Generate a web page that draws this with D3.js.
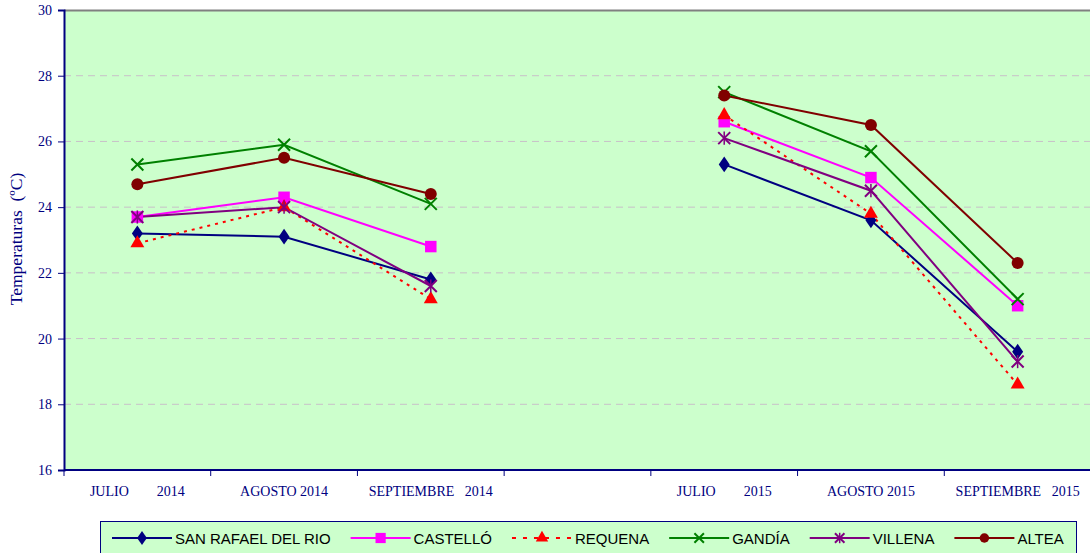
<!DOCTYPE html>
<html lang="es">
<head>
<meta charset="UTF-8">
<title>Temperaturas</title>
<script src="https://d3js.org/d3.v7.min.js"></script>
<style>
  body { margin: 0; background: #fff; }
  .tick-x text { white-space: pre; }
</style>
</head>
<body>
<div id="chart"></div>
<script>
// categories (4th slot is the empty gap between years)
var categories = ["JULIO        2014", "AGOSTO 2014", "SEPTIEMBRE   2014", "",
                  "JULIO        2015", "AGOSTO 2015", "SEPTIEMBRE   2015"];

var sanRafael = [23.2, 23.1, 21.8, null, 25.3, 23.6, 19.6];
var castello  = [23.7, 24.3, 22.8, null, 26.6, 24.9, 21.0];
var requena   = [22.9, 24.0, 21.2, null, 26.8, 23.8, 18.6];
var gandia    = [25.3, 25.9, 24.1, null, 27.5, 25.7, 21.2];
var villena   = [23.7, 24.0, 21.6, null, 26.1, 24.5, 19.3];
var altea     = [24.7, 25.5, 24.4, null, 27.4, 26.5, 22.3];

var yTicks = [16, 18, 20, 22, 24, 26, 28, 30];

var series = [
  {name: "SAN RAFAEL DEL RIO", values: sanRafael, color: "#000080", marker: "diamond"},
  {name: "CASTELLÓ", values: castello, color: "#ff00ff", marker: "square"},
  {name: "REQUENA", values: requena, color: "#ff0000", marker: "triangle", dash: "3,5"},
  {name: "GANDÍA", values: gandia, color: "#008000", marker: "x"},
  {name: "VILLENA", values: villena, color: "#800080", marker: "star"},
  {name: "ALTEA", values: altea, color: "#800000", marker: "circle"}
];

var W = 1090, H = 553;
var margin = {top: 10, left: 64, bottom: 83};
var plotW = 1027, plotH = 460;

var svg = d3.select("#chart").append("svg")
    .attr("width", W).attr("height", H);

var x = d3.scaleBand().domain(d3.range(categories.length)).range([0, plotW]);
var y = d3.scaleLinear().domain([16, 30]).range([plotH, 0]);

var g = svg.append("g").attr("transform", "translate(" + margin.left + "," + margin.top + ")");

// plot background
g.append("rect").attr("width", plotW).attr("height", plotH).attr("fill", "#ccffcc");

// gridlines
g.selectAll(".grid").data(yTicks.filter(function(d) { return d > 16 && d < 30; }))
  .enter().append("line")
    .attr("x1", 0).attr("x2", plotW)
    .attr("y1", function(d) { return y(d); }).attr("y2", function(d) { return y(d); })
    .attr("stroke", "#c8c0c8").attr("stroke-dasharray", "7,5");

// top border
g.append("line").attr("x1", 0).attr("x2", plotW).attr("y1", 0.5).attr("y2", 0.5)
  .attr("stroke", "#808080").attr("stroke-width", 2);

// y axis
var yAxis = g.append("g")
  .call(d3.axisLeft(y).tickValues(yTicks).tickSize(6).tickPadding(6));
yAxis.select(".domain").attr("stroke", "#000080").attr("stroke-width", 2);
yAxis.selectAll(".tick line").attr("stroke", "#000080");
yAxis.selectAll(".tick text").attr("fill", "#000080")
  .style("font-family", "'Liberation Serif', 'Times New Roman', serif").style("font-size", "14px");

// x axis: ticks at band edges
var xAxis = g.append("g").attr("transform", "translate(0," + plotH + ")");
xAxis.append("line").attr("x1", 0).attr("x2", plotW).attr("stroke", "#000080").attr("stroke-width", 2);
xAxis.selectAll(".edge").data(d3.range(categories.length + 1)).enter().append("line")
  .attr("x1", function(i) { return i * x.step(); }).attr("x2", function(i) { return i * x.step(); })
  .attr("y1", 0).attr("y2", 6).attr("stroke", "#000080");
xAxis.selectAll(".lbl").data(categories).enter().append("text")
  .attr("class", "tick-x")
  .attr("x", function(d, i) { return x(i) + x.bandwidth() / 2; })
  .attr("y", 26)
  .attr("text-anchor", "middle")
  .attr("fill", "#000080")
  .style("white-space", "pre")
  .style("font-family", "'Liberation Serif', 'Times New Roman', serif").style("font-size", "14px")
  .text(function(d) { return d; });

// y title
svg.append("text")
  .attr("transform", "translate(22," + (margin.top + 229) + ") rotate(-90)")
  .attr("text-anchor", "middle")
  .attr("fill", "#000080")
  .style("white-space", "pre")
  .style("font-family", "'Liberation Serif', 'Times New Roman', serif").style("font-size", "17.5px")
  .text("Temperaturas  (ºC)");

// marker drawing
function drawMarker(sel, s, size) {
  var c = s.color;
  if (s.marker === "diamond") {
    sel.append("path").attr("d", d3.symbol(d3.symbolDiamond, size * 6)).attr("fill", c)
      .attr("transform", "scale(1.2,1)");
  } else if (s.marker === "square") {
    sel.append("path").attr("d", d3.symbol(d3.symbolSquare, size * 11)).attr("fill", c);
  } else if (s.marker === "triangle") {
    sel.append("path").attr("d", d3.symbol(d3.symbolTriangle, size * 7)).attr("fill", c);
  } else if (s.marker === "circle") {
    sel.append("circle").attr("r", size * 0.5).attr("fill", c);
  } else {
    var h = size * 0.5;
    sel.append("path").attr("d", "M" + -h + "," + -h + "L" + h + "," + h + "M" + -h + "," + h + "L" + h + "," + -h)
      .attr("stroke", c).attr("stroke-width", 2).attr("fill", "none");
    if (s.marker === "star") {
      sel.append("path").attr("d", "M0," + -h * 1.1 + "L0," + h * 1.1)
        .attr("stroke", c).attr("stroke-width", 1.5);
    }
  }
}

// lines and markers
var line = d3.line()
  .defined(function(d) { return d != null; })
  .x(function(d, i) { return x(i) + x.bandwidth() / 2; })
  .y(function(d) { return y(d); });

series.forEach(function(s) {
  g.append("path").datum(s.values)
    .attr("d", line)
    .attr("fill", "none")
    .attr("stroke", s.color)
    .attr("stroke-width", 2)
    .attr("stroke-dasharray", s.dash || null);
});

series.forEach(function(s) {
  s.values.forEach(function(v, i) {
    if (v == null) return;
    var m = g.append("g").attr("transform", "translate(" + (x(i) + x.bandwidth() / 2) + "," + y(v) + ")");
    drawMarker(m, s, 12);
  });
});

// legend
var legend = svg.append("g").attr("transform", "translate(100,521)");
var legendBox = legend.append("rect")
  .attr("x", 0.5).attr("y", 0.5).attr("height", 40)
  .attr("fill", "#ccffcc").attr("stroke", "#000080");
var lx = 12;
series.forEach(function(s) {
  var item = legend.append("g").attr("transform", "translate(" + lx + ",17)");
  item.append("line").attr("x1", 0).attr("x2", 60)
    .attr("stroke", s.color).attr("stroke-width", 2).attr("stroke-dasharray", s.dash ? "4,7" : null);
  var m = item.append("g").attr("transform", "translate(30,0)");
  drawMarker(m, s, 9.5);
  var t = item.append("text").attr("x", 63).attr("y", 5.5)
    .style("font-family", "'Liberation Sans', Arial, sans-serif").style("font-size", "15px")
    .attr("fill", "#000")
    .text(s.name);
  lx += 63 + t.node().getComputedTextLength() + 20;
});
legendBox.attr("width", 976);
</script>
</body>
</html>
